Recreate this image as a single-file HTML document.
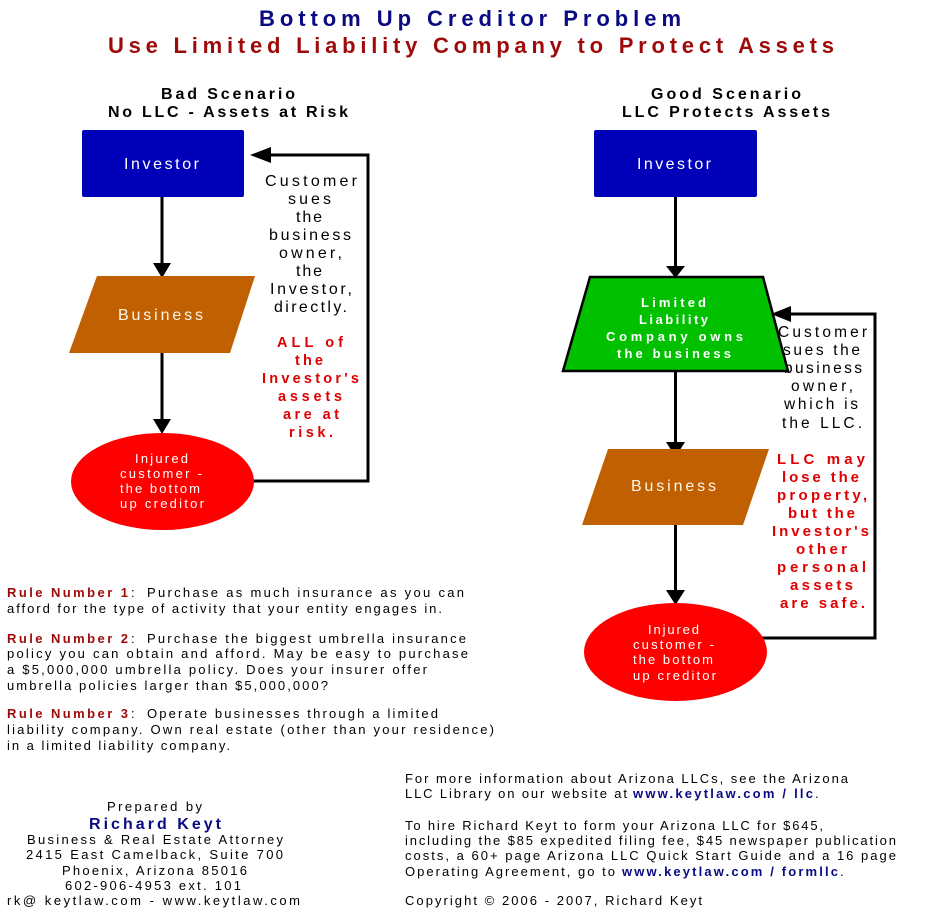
<!DOCTYPE html>
<html><head><meta charset="utf-8"><style>
html,body{margin:0;padding:0;background:#fff;}
svg{display:block;}
text{font-family:"Liberation Sans",Arial,sans-serif;}
</style></head><body>
<svg width="938" height="922" viewBox="0 0 938 922" xmlns="http://www.w3.org/2000/svg">
<rect width="938" height="922" fill="#fff"/>
<!-- Titles -->
<text x="259" y="26" font-size="22" font-weight="bold" fill="#0a0a82" textLength="422" lengthAdjust="spacing">Bottom Up Creditor Problem</text>
<text x="108" y="53" font-size="22" font-weight="bold" fill="#9e0a0a" textLength="726" lengthAdjust="spacing">Use Limited Liability Company to Protect Assets</text>
<text x="161" y="99" font-size="16" font-weight="bold" fill="#000" textLength="134" lengthAdjust="spacing">Bad Scenario</text>
<text x="108" y="117" font-size="16" font-weight="bold" fill="#000" textLength="240" lengthAdjust="spacing">No LLC - Assets at Risk</text>
<text x="651" y="99" font-size="16" font-weight="bold" fill="#000" textLength="150" lengthAdjust="spacing">Good Scenario</text>
<text x="622" y="117" font-size="16" font-weight="bold" fill="#000" textLength="208" lengthAdjust="spacing">LLC Protects Assets</text>

<!-- LEFT connectors -->
<g stroke="#000" stroke-width="3" fill="none">
<line x1="162" y1="197" x2="162" y2="264"/>
<line x1="162" y1="353" x2="162" y2="420"/>
<polyline points="268,155 368,155 368,481 248,481"/>
</g>
<g fill="#000">
<polygon points="153,263 171,263 162,278"/>
<polygon points="153,419 171,419 162,434"/>
<polygon points="250,155 271,147 271,163"/>
</g>
<!-- LEFT shapes -->
<rect x="82" y="130" width="162" height="67" rx="2" fill="#0000b8"/>
<polygon points="97,276 255,276 230,353 69,353" fill="#c06000"/>
<ellipse cx="162.5" cy="481.5" rx="91.5" ry="48.5" fill="#ff0000"/>
<text x="124" y="169" font-size="16" fill="#fff" textLength="75" lengthAdjust="spacing">Investor</text>
<text x="118" y="320" font-size="16" fill="#fff6e8" textLength="85" lengthAdjust="spacing">Business</text>
<g font-size="13" fill="#fff">
<text x="135" y="463" textLength="53" lengthAdjust="spacing">Injured</text>
<text x="120" y="478" textLength="82" lengthAdjust="spacing">customer -</text>
<text x="120" y="493" textLength="80" lengthAdjust="spacing">the bottom</text>
<text x="120" y="508" textLength="84" lengthAdjust="spacing">up creditor</text>
</g>
<g font-size="16" fill="#000">
<text x="265" y="186" textLength="92" lengthAdjust="spacing">Customer</text>
<text x="288" y="204" textLength="43" lengthAdjust="spacing">sues</text>
<text x="296" y="222" textLength="26" lengthAdjust="spacing">the</text>
<text x="269" y="240" textLength="82" lengthAdjust="spacing">business</text>
<text x="279" y="258" textLength="63" lengthAdjust="spacing">owner,</text>
<text x="296" y="276" textLength="26" lengthAdjust="spacing">the</text>
<text x="270" y="294" textLength="82" lengthAdjust="spacing">Investor,</text>
<text x="274" y="312" textLength="73" lengthAdjust="spacing">directly.</text>
</g>
<g font-size="14.5" font-weight="bold" fill="#e00000">
<text x="277" y="347" textLength="66" lengthAdjust="spacing">ALL of</text>
<text x="295" y="365" textLength="28" lengthAdjust="spacing">the</text>
<text x="262" y="383" textLength="97" lengthAdjust="spacing">Investor's</text>
<text x="278" y="401" textLength="64" lengthAdjust="spacing">assets</text>
<text x="283" y="419" textLength="56" lengthAdjust="spacing">are at</text>
<text x="289" y="437" textLength="44" lengthAdjust="spacing">risk.</text>
</g>

<!-- RIGHT connectors -->
<g stroke="#000" stroke-width="3" fill="none">
<line x1="675.5" y1="197" x2="675.5" y2="268"/>
<line x1="675.5" y1="371" x2="675.5" y2="443"/>
<line x1="675.5" y1="525" x2="675.5" y2="591"/>
<polyline points="788,314 875,314 875,638 760,638"/>
</g>
<g fill="#000">
<polygon points="666,266 685,266 675.5,278"/>
<polygon points="666,442 685,442 675.5,457"/>
<polygon points="666,590 685,590 675.5,605"/>
<polygon points="771,314 791,306 791,322"/>
</g>
<!-- RIGHT side text (under trapezoid) -->
<g font-size="15.5" fill="#000">
<text x="778" y="337" textLength="89" lengthAdjust="spacing">Customer</text>
<text x="783" y="355" textLength="77" lengthAdjust="spacing">sues the</text>
<text x="784" y="373" textLength="78" lengthAdjust="spacing">business</text>
<text x="791" y="391" textLength="62" lengthAdjust="spacing">owner,</text>
<text x="784" y="409" textLength="74" lengthAdjust="spacing">which is</text>
<text x="782" y="428" textLength="80" lengthAdjust="spacing">the LLC.</text>
</g>
<g font-size="15" font-weight="bold" fill="#e00000">
<text x="777" y="464" textLength="88" lengthAdjust="spacing">LLC may</text>
<text x="782" y="482" textLength="77" lengthAdjust="spacing">lose the</text>
<text x="777" y="500" textLength="90" lengthAdjust="spacing">property,</text>
<text x="788" y="518" textLength="67" lengthAdjust="spacing">but the</text>
<text x="772" y="536" textLength="97" lengthAdjust="spacing">Investor's</text>
<text x="796" y="554" textLength="51" lengthAdjust="spacing">other</text>
<text x="777" y="572" textLength="89" lengthAdjust="spacing">personal</text>
<text x="790" y="590" textLength="63" lengthAdjust="spacing">assets</text>
<text x="780" y="608" textLength="85" lengthAdjust="spacing">are safe.</text>
</g>
<!-- RIGHT shapes -->
<rect x="594" y="130" width="163" height="67" rx="2" fill="#0000b8"/>
<polygon points="590,277 763,277 788,371 563,371" fill="#00c000" stroke="#000" stroke-width="2.5" stroke-linejoin="miter"/>
<polygon points="608,449 769,449 743,525 582,525" fill="#c06000"/>
<ellipse cx="675.5" cy="652" rx="91.5" ry="49" fill="#ff0000"/>
<text x="637" y="169" font-size="16" fill="#fff" textLength="74" lengthAdjust="spacing">Investor</text>
<text x="631" y="491" font-size="16" fill="#fff6e8" textLength="85" lengthAdjust="spacing">Business</text>
<g font-size="13" font-weight="bold" fill="#fff">
<text x="641" y="307" textLength="65" lengthAdjust="spacing">Limited</text>
<text x="639" y="324" textLength="69" lengthAdjust="spacing">Liability</text>
<text x="606" y="341" textLength="137" lengthAdjust="spacing">Company owns</text>
<text x="617" y="358" textLength="114" lengthAdjust="spacing">the business</text>
</g>
<g font-size="13" fill="#fff">
<text x="648" y="634" textLength="51" lengthAdjust="spacing">Injured</text>
<text x="633" y="649" textLength="81" lengthAdjust="spacing">customer -</text>
<text x="633" y="664" textLength="80" lengthAdjust="spacing">the bottom</text>
<text x="633" y="680" textLength="83" lengthAdjust="spacing">up creditor</text>
</g>

<!-- Rules -->
<g font-size="13" fill="#000">
<text x="7" y="597" font-weight="bold" fill="#9e0a0a" textLength="121" lengthAdjust="spacing">Rule Number 1</text>
<text x="131" y="597">:</text>
<text x="147" y="597" textLength="317" lengthAdjust="spacing">Purchase as much insurance as you can</text>
<text x="7" y="613" textLength="435" lengthAdjust="spacing">afford for the type of activity that your entity engages in.</text>

<text x="7" y="643" font-weight="bold" fill="#9e0a0a" textLength="121" lengthAdjust="spacing">Rule Number 2</text>
<text x="131" y="643">:</text>
<text x="147" y="643" textLength="319" lengthAdjust="spacing">Purchase the biggest umbrella insurance</text>
<text x="7" y="658" textLength="461" lengthAdjust="spacing">policy you can obtain and afford.  May be easy to purchase</text>
<text x="7" y="674" textLength="420" lengthAdjust="spacing">a $5,000,000 umbrella policy.  Does your insurer offer</text>
<text x="7" y="690" textLength="321" lengthAdjust="spacing">umbrella policies larger than $5,000,000?</text>

<text x="7" y="718" font-weight="bold" fill="#9e0a0a" textLength="121" lengthAdjust="spacing">Rule Number 3</text>
<text x="131" y="718">:</text>
<text x="147" y="718" textLength="291" lengthAdjust="spacing">Operate businesses through a limited</text>
<text x="7" y="734" textLength="487" lengthAdjust="spacing">liability company.  Own real estate (other than your residence)</text>
<text x="7" y="750" textLength="223" lengthAdjust="spacing">in a limited liability company.</text>
</g>

<!-- Prepared by -->
<g font-size="13" fill="#000">
<text x="107" y="811" textLength="95" lengthAdjust="spacing">Prepared by</text>
<text x="89" y="829" font-size="16" font-weight="bold" fill="#0a0a82" textLength="132" lengthAdjust="spacing">Richard Keyt</text>
<text x="27" y="844" textLength="256" lengthAdjust="spacing">Business &amp; Real Estate Attorney</text>
<text x="26" y="859" textLength="257" lengthAdjust="spacing">2415 East Camelback, Suite 700</text>
<text x="62" y="875" textLength="185" lengthAdjust="spacing">Phoenix, Arizona 85016</text>
<text x="65" y="890" textLength="176" lengthAdjust="spacing">602-906-4953 ext. 101</text>
<text x="7" y="905" textLength="293" lengthAdjust="spacing">rk@ keytlaw.com  -  www.keytlaw.com</text>
</g>

<!-- Right bottom -->
<g font-size="13" fill="#000">
<text x="405" y="783" textLength="443" lengthAdjust="spacing">For more information about Arizona LLCs, see the Arizona</text>
<text x="405" y="798" textLength="222" lengthAdjust="spacing">LLC Library on our website at</text>
<text x="633" y="798" font-weight="bold" fill="#0a0a82" textLength="180" lengthAdjust="spacing">www.keytlaw.com / llc</text>
<text x="815" y="798">.</text>
<text x="405" y="830" textLength="418" lengthAdjust="spacing">To hire Richard Keyt to form your Arizona LLC for $645,</text>
<text x="405" y="845" textLength="491" lengthAdjust="spacing">including the $85 expedited filing fee, $45 newspaper publication</text>
<text x="405" y="860" textLength="491" lengthAdjust="spacing">costs, a 60+ page Arizona LLC Quick Start Guide and a 16 page</text>
<text x="405" y="876" textLength="210" lengthAdjust="spacing">Operating Agreement, go to</text>
<text x="622" y="876" font-weight="bold" fill="#0a0a82" textLength="216" lengthAdjust="spacing">www.keytlaw.com / formllc</text>
<text x="840" y="876">.</text>
<text x="405" y="905" textLength="297" lengthAdjust="spacing">Copyright © 2006 - 2007, Richard Keyt</text>
</g>
</svg>
</body></html>
